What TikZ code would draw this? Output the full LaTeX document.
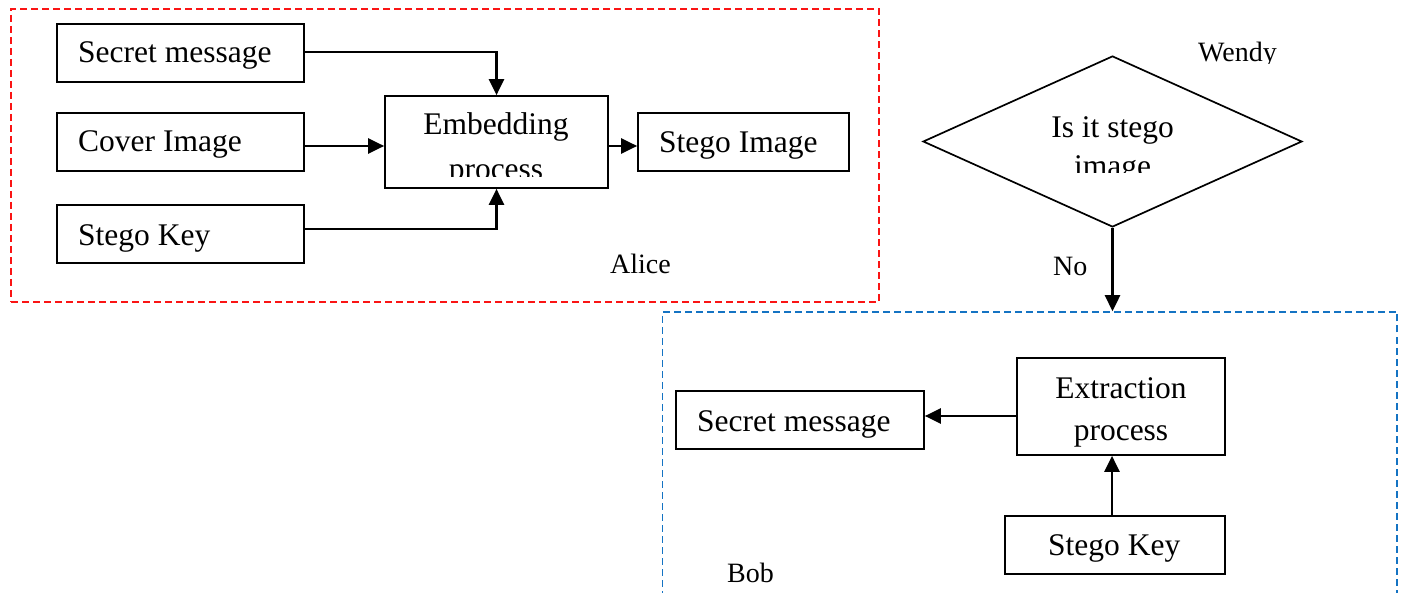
\documentclass[tikz,border=0pt]{standalone}
\usepackage{fontspec}
\setmainfont{Liberation Serif}
\usetikzlibrary{arrows.meta,shapes.geometric}
\definecolor{alicered}{RGB}{250,20,20}
\definecolor{bobblue}{RGB}{20,115,195}
\begin{document}
\begin{tikzpicture}[x=1pt,y=-1pt,
  box/.style={draw,line width=1.7pt,inner sep=0pt},
  area/.style={draw,line width=1.5pt,inner sep=0pt,dash pattern=on 7pt off 4pt},
  txt/.style={font=\fontsize{31.5}{38}\selectfont,inner sep=0pt},
  lbl/.style={font=\fontsize{28}{34}\selectfont,inner sep=0pt},
  arr/.style={line width=2.4pt,-{Triangle[length=16pt,width=15pt]}}]
\useasboundingbox (0,0) rectangle (1405,593);
% areas
\node[area,draw=alicered,minimum width=868pt,minimum height=293pt] (alice) at (445,155.5) {};
\node[area,draw=bobblue,minimum width=734.5pt,minimum height=320pt] (bob) at (1029.75,472) {};
% Alice boxes
\node[box,minimum width=247pt,minimum height=58pt] (sm) at (180.5,53) {};
\node[box,minimum width=247pt,minimum height=58pt] (ci) at (180.5,142) {};
\node[box,minimum width=247pt,minimum height=58pt] (sk) at (180.5,234) {};
\node[box,minimum width=223pt,minimum height=92pt] (emb) at (496.5,142) {};
\node[box,minimum width=211pt,minimum height=58pt] (si) at (743.5,142) {};
\node[txt,anchor=base west] (tsm) at (78,63) {Secret message};
\node[txt,anchor=base west] (tci) at (78,152) {Cover Image};
\node[txt,anchor=base west] (tsk) at (78,246) {Stego Key};
\node[txt,anchor=base] (temb) at (496,135) {Embedding};
\begin{scope}
\clip (390,150) rectangle (604,177);
\node[txt,anchor=base] (temb2) at (496,180) {process};
\end{scope}
\node[txt,anchor=base west] (tsi) at (659,153) {Stego Image};
\node[lbl,anchor=base west] (talice) at (610,274) {Alice};
% arrows Alice
\draw[arr] ([yshift=1pt]sm.east) -| (emb.north);
\draw[arr] ([yshift=-4pt]ci.east) -- ([yshift=-4pt]emb.west);
\draw[arr] ([yshift=5pt]sk.east) -| (emb.south);
\draw[arr] ([yshift=-4pt]emb.east) -- ([yshift=-4pt]si.west);
% Wendy
\node[draw,diamond,line width=1.7pt,inner sep=0pt,minimum width=379pt,minimum height=171pt] (wendy) at (1112.5,141.5) {};
\node[txt,anchor=base] (tw1) at (1112.5,138) {Is it stego};
\begin{scope}
\clip (1040,145) rectangle (1190,173);
\node[txt,anchor=base] (tw2) at (1112.5,177) {image};
\end{scope}
\begin{scope}
\clip (1150,20) rectangle (1320,64);
\node[lbl,anchor=base west] (twendy) at (1198,62) {Wendy};
\end{scope}
\draw[arr] (wendy.south) -- (wendy.south |- bob.north);
\node[lbl,anchor=base west] (tno) at (1053,276) {No};
% Bob boxes
\node[box,minimum width=248pt,minimum height=58pt] (bsm) at (800,420) {};
\node[box,minimum width=208pt,minimum height=97pt] (ext) at (1121,406.5) {};
\node[box,minimum width=220pt,minimum height=58pt] (bsk) at (1115,545) {};
\node[txt,anchor=base west] (tbsm) at (697,431) {Secret message};
\node[txt,anchor=base] (text1) at (1121,398) {Extraction};
\node[txt,anchor=base] (text2) at (1121,440) {process};
\node[txt,anchor=base west] (tbsk) at (1048,555) {Stego Key};
\node[lbl,anchor=base west] (tbob) at (727,582) {Bob};
\draw[arr] ([yshift=-9.5pt]ext.west) -- ([yshift=4pt]bsm.east);
\draw[arr] ([xshift=-3pt]bsk.north) -- ([xshift=-3pt]bsk.north |- ext.south);
\end{tikzpicture}
\end{document}
